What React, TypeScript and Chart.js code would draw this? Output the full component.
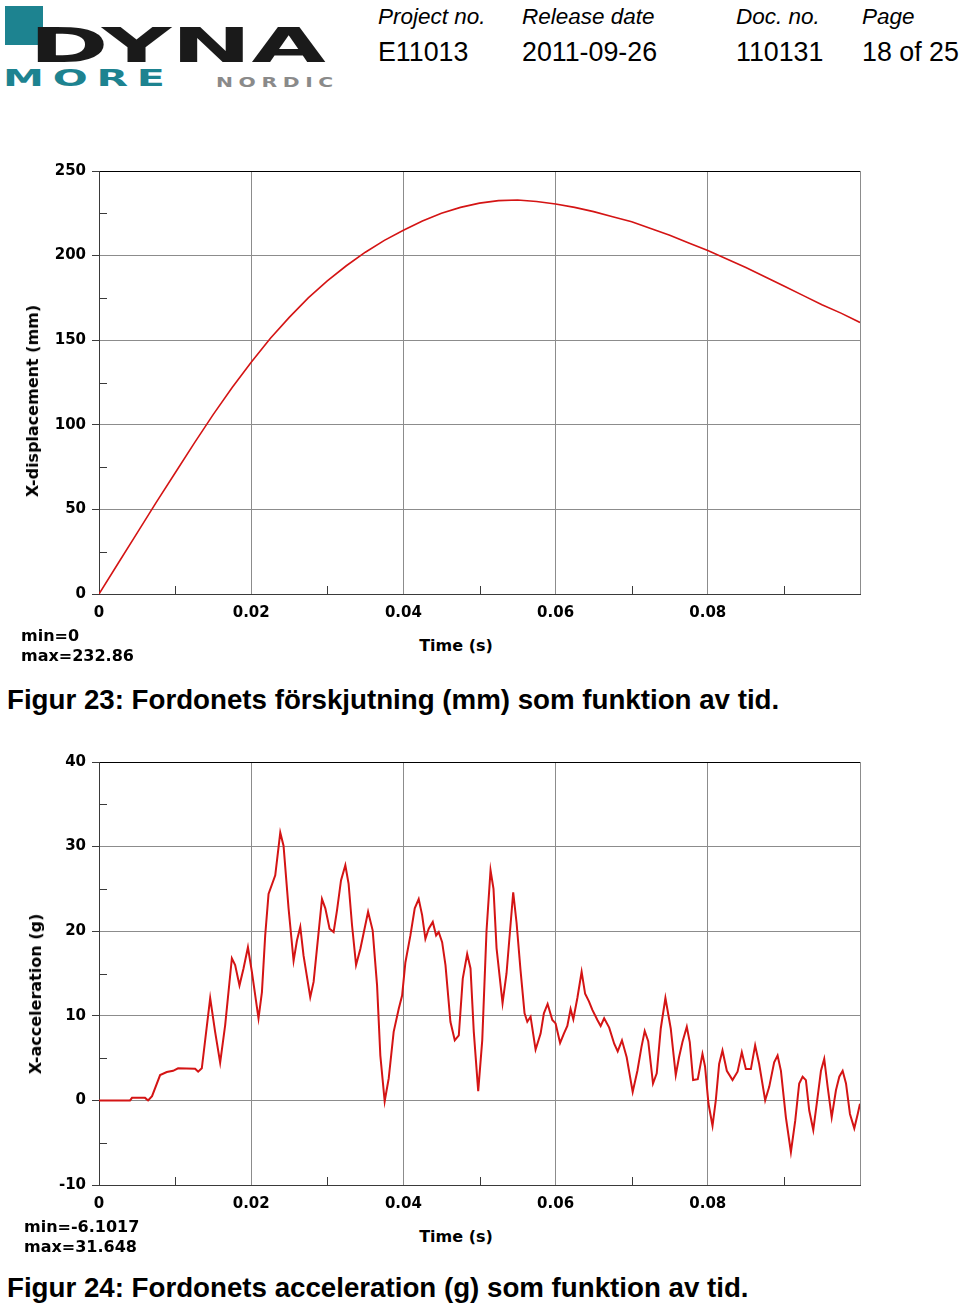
import React, { useEffect, useRef } from 'react';
import { Chart, registerables } from 'chart.js';

Chart.register(...registerables);

// ---------- data ----------
const dispTime = [
  0, 0.0025, 0.005, 0.0075, 0.01, 0.0125, 0.015, 0.0175, 0.02, 0.0225,
  0.025, 0.0275, 0.03, 0.0325, 0.035, 0.0375, 0.04, 0.0425, 0.045, 0.0475,
  0.05, 0.0525, 0.055, 0.0575, 0.06, 0.0625, 0.065, 0.0675, 0.07, 0.0725,
  0.075, 0.0775, 0.08, 0.0825, 0.085, 0.0875, 0.09, 0.0925, 0.095, 0.0975, 0.1,
];
const dispValue = [
  0, 18, 36, 54, 71.5, 89, 106, 122, 137, 151,
  163.5, 175, 185, 194, 202, 209, 215, 220.5, 225, 228.5,
  231, 232.5, 232.86, 232, 230.5, 228.5, 226, 223, 220, 216,
  212, 207.5, 203, 198, 193, 187.5, 182, 176.5, 171, 166, 160.5,
];

const accTime = [
  0, 0.00408, 0.00434, 0.00605, 0.00645, 0.00697, 0.00803, 0.00891, 0.00974, 0.01039,
  0.01263, 0.01303, 0.01351, 0.01461, 0.01526, 0.01592, 0.01658, 0.01746, 0.01789, 0.01846,
  0.01899, 0.01957, 0.02009, 0.02096, 0.02141, 0.02184, 0.02228, 0.02316, 0.02382, 0.02425,
  0.02491, 0.02557, 0.02601, 0.02645, 0.02688, 0.02776, 0.0282, 0.02886, 0.0293, 0.02974,
  0.0303, 0.03083, 0.03128, 0.0318, 0.03237, 0.0328, 0.03325, 0.03378, 0.03434, 0.03536,
  0.03596, 0.03654, 0.03697, 0.03754, 0.03807, 0.03872, 0.03938, 0.03983, 0.04026, 0.04092,
  0.04149, 0.04201, 0.04246, 0.04289, 0.04333, 0.04386, 0.0443, 0.04464, 0.04509, 0.04553,
  0.04618, 0.04675, 0.04728, 0.0478, 0.04838, 0.04882, 0.04925, 0.04983, 0.05036, 0.05092,
  0.05145, 0.05184, 0.05224, 0.05303, 0.05355, 0.05443, 0.05487, 0.05539, 0.05592, 0.05628,
  0.05671, 0.05737, 0.05803, 0.05846, 0.05895, 0.05957, 0.06, 0.06059, 0.06109, 0.06154,
  0.06197, 0.06233, 0.06286, 0.06342, 0.06388, 0.06438, 0.06483, 0.06549, 0.06592, 0.06638,
  0.06704, 0.0677, 0.06816, 0.06872, 0.06934, 0.07013, 0.07075, 0.07128, 0.07171, 0.07217,
  0.0728, 0.07329, 0.07382, 0.07443, 0.07513, 0.07579, 0.07622, 0.07667, 0.07724, 0.07763,
  0.07807, 0.07868, 0.0793, 0.07964, 0.08009, 0.08062, 0.08105, 0.08149, 0.08193, 0.0825,
  0.08325, 0.08391, 0.08447, 0.085, 0.08566, 0.08622, 0.08675, 0.08754, 0.08807, 0.08872,
  0.08917, 0.08961, 0.09026, 0.09092, 0.09149, 0.09201, 0.09246, 0.09289, 0.09333, 0.09386,
  0.09443, 0.09487, 0.0953, 0.09575, 0.09628, 0.09684, 0.09728, 0.09772, 0.09816, 0.09868,
  0.09925, 0.0997, 0.1,
];
const accValue = [
  0, 0, 0.3, 0.3, 0, 0.5, 3.0, 3.35, 3.5, 3.8,
  3.75, 3.4, 3.8, 12.1, 8.1, 4.45, 8.9, 16.8, 16.0, 13.6,
  15.6, 18.1, 15.2, 9.7, 12.8, 19.5, 24.4, 26.6, 31.65, 30.1,
  22.7, 16.5, 18.9, 20.5, 17.1, 12.2, 14.0, 19.9, 23.8, 22.7,
  20.3, 19.9, 22.5, 26.0, 27.8, 25.6, 20.7, 16.0, 17.9, 22.3,
  20.1, 13.6, 5.3, -0.1, 2.6, 8.1, 10.8, 12.4, 16.3, 19.5,
  22.7, 23.8, 21.9, 19.1, 20.3, 21.1, 19.5, 19.9, 18.7, 16.0,
  9.3, 7.1, 7.7, 14.4, 17.3, 15.6, 8.1, 1.1, 7.1, 20.0,
  27.2, 25.0, 18.0, 11.5, 15.0, 24.6, 21.0, 15.4, 10.3, 9.3,
  9.9, 6.0, 7.9, 10.3, 11.4, 9.5, 9.1, 6.8, 7.9, 8.8,
  10.8, 9.6, 12.1, 15.2, 12.6, 11.7, 10.7, 9.5, 8.8, 9.7,
  8.6, 6.7, 5.8, 7.1, 5.1, 1.0, 3.5, 6.3, 8.2, 7.0,
  2.0, 3.2, 8.5, 12.1, 8.5, 3.0, 5.1, 6.9, 8.7, 6.9,
  2.4, 2.5, 5.5, 4.0, -0.4, -3.0, 0, 4.3, 5.9, 3.5,
  2.4, 3.4, 5.7, 3.7, 3.7, 6.5, 4.3, 0, 1.6, 4.5,
  5.3, 3.5, -2.0, -6.1, -2.4, 2.0, 2.8, 2.4, -1.2, -3.5,
  0.4, 3.5, 4.9, 1.6, -2.0, 1.2, 2.8, 3.5, 2.0, -1.6,
  -3.3, -1.6, -0.4,
];

const xTicks = [0, 0.01, 0.02, 0.03, 0.04, 0.05, 0.06, 0.07, 0.08, 0.09, 0.1];
const xTickLabels = ['0', '', '0.02', '', '0.04', '', '0.06', '', '0.08', '', ''];
const dispYTicks = [0, 25, 50, 75, 100, 125, 150, 175, 200, 225, 250];
const dispYTickLabels = ['0', '', '50', '', '100', '', '150', '', '200', '', '250'];
const accYTicks = [-10, -5, 0, 5, 10, 15, 20, 25, 30, 35, 40];
const accYTickLabels = ['-10', '', '0', '', '10', '', '20', '', '30', '', '40'];

// ---------- styles ----------
const RED = '#d41414';
const GRID = '#8c8c8c';
const AXIS = '#3a3a3a';
const TICK_FONT = { family: 'DejaVu Sans', weight: 'bold' as const, size: 15 };

const minorTicksPlugin = {
  id: 'minorTicks',
  beforeDatasetsDraw(chart: any) {
    const { ctx, chartArea, scales } = chart;
    const x = scales.x;
    const y = scales.y;
    ctx.save();
    ctx.strokeStyle = AXIS;
    ctx.lineWidth = 1;
    x.ticks.forEach((t: any, i: number) => {
      if (i % 2 === 1) {
        const px = Math.round(x.getPixelForValue(t.value)) + 0.5;
        ctx.beginPath();
        ctx.moveTo(px, chartArea.bottom);
        ctx.lineTo(px, chartArea.bottom - 8);
        ctx.stroke();
      }
    });
    y.ticks.forEach((t: any, i: number) => {
      if (i % 2 === 1) {
        const py = Math.round(y.getPixelForValue(t.value)) + 0.5;
        ctx.beginPath();
        ctx.moveTo(chartArea.left, py);
        ctx.lineTo(chartArea.left + 8, py);
        ctx.stroke();
      }
    });
    ctx.restore();
  },
};

type PlotProps = {
  top: number;
  height: number;
  plotTop: number;
  plotBottom: number;
  time: number[];
  values: number[];
  yTicks: number[];
  yTickLabels: string[];
  lineWidth: number;
};

function Plot(props: PlotProps) {
  const ref = useRef<HTMLCanvasElement | null>(null);
  useEffect(() => {
    const { top, height, plotTop, plotBottom, time, values, yTicks, yTickLabels, lineWidth } = props;
    const chart = new Chart(ref.current as HTMLCanvasElement, {
      type: 'line',
      data: {
        datasets: [
          {
            data: time.map((t, i) => ({ x: t, y: values[i] })),
            borderColor: RED,
            borderWidth: lineWidth,
            pointRadius: 0,
            tension: 0,
            fill: false,
          },
        ],
      },
      options: {
        animation: false,
        responsive: false,
        maintainAspectRatio: false,
        events: [],
        layout: { padding: { top: plotTop - top, right: 100, left: 0, bottom: 0 } },
        plugins: { legend: { display: false }, tooltip: { enabled: false } },
        scales: {
          x: {
            type: 'linear',
            min: xTicks[0],
            max: xTicks[xTicks.length - 1],
            afterBuildTicks: (s: any) => {
              s.ticks = xTicks.map((v) => ({ value: v }));
            },
            afterFit: (s: any) => {
              s.height = top + height - plotBottom;
            },
            ticks: {
              autoSkip: false,
              maxRotation: 0,
              padding: 10,
              color: '#000',
              font: TICK_FONT,
              callback: (_v: any, i: number) => xTickLabels[i],
            },
            grid: {
              drawTicks: false,
              lineWidth: 1,
              color: (c: any) => (c.index === 0 || c.index % 2 === 1 ? 'transparent' : GRID),
            },
            border: { color: AXIS, width: 1 },
          },
          y: {
            type: 'linear',
            min: yTicks[0],
            max: yTicks[yTicks.length - 1],
            afterBuildTicks: (s: any) => {
              s.ticks = yTicks.map((v) => ({ value: v }));
            },
            afterFit: (s: any) => {
              s.width = 99;
            },
            ticks: {
              autoSkip: false,
              padding: 6,
              color: '#000',
              font: TICK_FONT,
              callback: (_v: any, i: number) => yTickLabels[i],
            },
            grid: {
              drawTicks: true,
              tickLength: 7,
              lineWidth: 1,
              color: (c: any) =>
                c.index === yTicks.length - 1 ? '#000' : c.index === 0 || c.index % 2 === 1 ? 'transparent' : GRID,
              tickColor: (c: any) => (c.index % 2 === 1 ? 'transparent' : AXIS),
            },
            border: { color: AXIS, width: 1 },
          },
        },
      },
      plugins: [minorTicksPlugin],
    } as any);
    return () => chart.destroy();
  }, []);
  return (
    <canvas
      ref={ref}
      width={960}
      height={props.height}
      style={{ position: 'absolute', left: 0, top: props.top, width: 960, height: props.height }}
    />
  );
}

const labelFont = "'DejaVu Sans', sans-serif";
const pageFont = "'Liberation Sans', Arial, sans-serif";

function Txt(p: { x: number; y: number; children: React.ReactNode; size?: number }) {
  return (
    <div
      style={{
        position: 'absolute',
        left: p.x,
        top: p.y - 10,
        height: 20,
        lineHeight: '20px',
        fontFamily: labelFont,
        fontWeight: 'bold',
        fontSize: p.size || 16,
        color: '#000',
        whiteSpace: 'nowrap',
      }}
    >
      {p.children}
    </div>
  );
}

function CenterTxt(p: { x: number; y: number; rotate?: boolean; children: React.ReactNode }) {
  return (
    <div
      style={{
        position: 'absolute',
        left: p.x,
        top: p.y,
        lineHeight: '20px',
        fontFamily: labelFont,
        fontWeight: 'bold',
        fontSize: 16,
        color: '#000',
        whiteSpace: 'nowrap',
        transform: p.rotate ? 'translate(-50%, -50%) rotate(-90deg)' : 'translate(-50%, -50%)',
      }}
    >
      {p.children}
    </div>
  );
}

function HeaderCell(p: { x: number; label: string; value: string }) {
  return (
    <>
      <div
        style={{
          position: 'absolute',
          left: p.x,
          top: 4,
          lineHeight: '26px',
          fontFamily: pageFont,
          fontStyle: 'italic',
          fontSize: 22.5,
          color: '#000',
          whiteSpace: 'nowrap',
        }}
      >
        {p.label}
      </div>
      <div
        style={{
          position: 'absolute',
          left: p.x,
          top: 37,
          lineHeight: '30px',
          fontFamily: pageFont,
          fontSize: 26.8,
          color: '#000',
          whiteSpace: 'nowrap',
        }}
      >
        {p.value}
      </div>
    </>
  );
}

function Caption(p: { y: number; children: React.ReactNode }) {
  return (
    <div
      style={{
        position: 'absolute',
        left: 7,
        top: p.y,
        lineHeight: '32px',
        fontFamily: pageFont,
        fontWeight: 'bold',
        fontSize: 27.7,
        color: '#000',
        whiteSpace: 'nowrap',
      }}
    >
      {p.children}
    </div>
  );
}

export default function App() {
  return (
    <div
      style={{
        position: 'absolute',
        left: 0,
        top: 0,
        width: 960,
        height: 1309,
        background: '#fff',
        overflow: 'hidden',
      }}
    >
      {/* logo */}
      <div style={{ position: 'absolute', left: 5, top: 6, width: 38, height: 39, background: '#1d8390' }} />
      <div
        style={{
          position: 'absolute',
          left: 29,
          top: 21,
          lineHeight: '48px',
          fontFamily: labelFont,
          fontWeight: 'bold',
          fontSize: 48,
          color: '#1a1a1a',
          transform: 'scaleX(2.0)',
          transformOrigin: 'left center',
          whiteSpace: 'nowrap',
        }}
      >
        DYNA
      </div>
      <div
        style={{
          position: 'absolute',
          left: 3,
          top: 66,
          lineHeight: '24px',
          fontFamily: labelFont,
          fontWeight: 'bold',
          fontSize: 23.5,
          letterSpacing: 5,
          color: '#1d8390',
          transform: 'scaleX(1.75)',
          transformOrigin: 'left center',
          whiteSpace: 'nowrap',
        }}
      >
        MORE
      </div>
      <div
        style={{
          position: 'absolute',
          left: 216,
          top: 75,
          lineHeight: '15px',
          fontFamily: labelFont,
          fontWeight: 'bold',
          fontSize: 14.5,
          letterSpacing: 4,
          color: '#8a8a8a',
          transform: 'scaleX(1.4)',
          transformOrigin: 'left center',
          whiteSpace: 'nowrap',
        }}
      >
        NORDIC
      </div>

      <HeaderCell x={378} label="Project no." value="E11013" />
      <HeaderCell x={522} label="Release date" value="2011-09-26" />
      <HeaderCell x={736} label="Doc. no." value="110131" />
      <HeaderCell x={862} label="Page" value="18 of 25" />

      {/* chart 1 */}
      <Plot
        top={150}
        height={480}
        plotTop={171}
        plotBottom={594}
        time={dispTime}
        values={dispValue}
        yTicks={dispYTicks}
        yTickLabels={dispYTickLabels}
        lineWidth={1.6}
      />
      <CenterTxt x={33} y={401} rotate>
        X-displacement (mm)
      </CenterTxt>
      <CenterTxt x={456} y={646}>
        Time (s)
      </CenterTxt>
      <Txt x={21} y={636}>min=0</Txt>
      <Txt x={21} y={656}>max=232.86</Txt>
      <Caption y={684}>Figur 23: Fordonets förskjutning (mm) som funktion av tid.</Caption>

      {/* chart 2 */}
      <Plot
        top={740}
        height={480}
        plotTop={762}
        plotBottom={1185}
        time={accTime}
        values={accValue}
        yTicks={accYTicks}
        yTickLabels={accYTickLabels}
        lineWidth={2}
      />
      <CenterTxt x={36} y={994} rotate>
        X-acceleration (g)
      </CenterTxt>
      <CenterTxt x={456} y={1237}>
        Time (s)
      </CenterTxt>
      <Txt x={24} y={1227}>min=-6.1017</Txt>
      <Txt x={24} y={1247}>max=31.648</Txt>
      <Caption y={1272}>Figur 24: Fordonets acceleration (g) som funktion av tid.</Caption>
    </div>
  );
}
